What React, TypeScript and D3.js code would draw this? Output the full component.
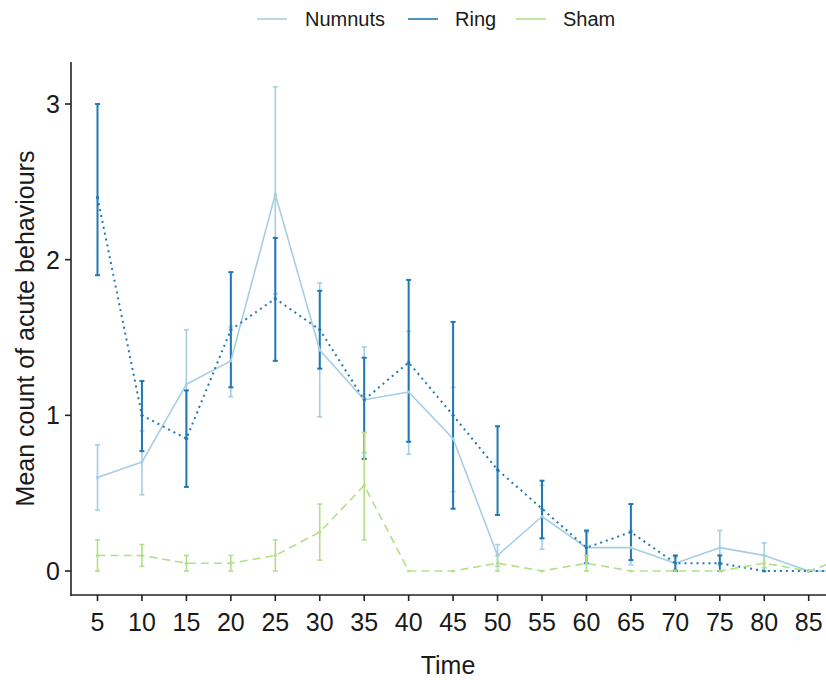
import React from "react";
import * as d3 from "d3";

// Time points (minutes)
const times = [5, 10, 15, 20, 25, 30, 35, 40, 45, 50, 55, 60, 65, 70, 75, 80, 85, 90];

// Numnuts group: mean and error-bar limits
const numnutsMean = [0.6, 0.7, 1.2, 1.35, 2.42, 1.42, 1.1, 1.15, 0.85, 0.1, 0.35, 0.15, 0.15, 0.05, 0.15, 0.1, 0, 0];
const numnutsLow = [0.39, 0.49, 0.85, 1.12, 1.78, 0.99, 0.76, 0.75, 0.51, 0.03, 0.14, 0.05, 0.04, 0.01, 0.04, 0.02, 0, 0];
const numnutsHigh = [0.81, 0.9, 1.55, 1.57, 3.11, 1.85, 1.44, 1.54, 1.18, 0.17, 0.55, 0.25, 0.26, 0.09, 0.26, 0.18, 0, 0];

// Ring group
const ringMean = [2.4, 1.0, 0.85, 1.55, 1.75, 1.55, 1.1, 1.34, 1.0, 0.65, 0.4, 0.15, 0.25, 0.05, 0.05, 0, 0, 0];
const ringLow = [1.9, 0.77, 0.54, 1.18, 1.35, 1.3, 0.72, 0.83, 0.4, 0.36, 0.21, 0.05, 0.07, 0, 0, 0, 0, 0];
const ringHigh = [3.0, 1.22, 1.16, 1.92, 2.14, 1.8, 1.37, 1.87, 1.6, 0.93, 0.58, 0.26, 0.43, 0.1, 0.1, 0, 0, 0];

// Sham group
const shamMean = [0.1, 0.1, 0.05, 0.05, 0.1, 0.25, 0.55, 0, 0, 0.05, 0, 0.05, 0, 0, 0, 0.05, 0, 0.1];
const shamLow = [0, 0.03, 0, 0, 0, 0.07, 0.2, 0, 0, 0, 0, 0, 0, 0, 0, 0, 0, 0];
const shamHigh = [0.2, 0.17, 0.1, 0.1, 0.2, 0.43, 0.89, 0, 0, 0.1, 0, 0.1, 0, 0, 0, 0.1, 0, 0.2];

const xTickLabels = ["5", "10", "15", "20", "25", "30", "35", "40", "45", "50", "55", "60", "65", "70", "75", "80", "85"];
const yTicks = [0, 1, 2, 3];

const groupNames = ["Numnuts", "Ring", "Sham"];
const groupColors = ["#a6cee3", "#1f78b4", "#b2df8a"];

const W = 826;
const H = 680;
const FONT = "'Liberation Sans', Arial, sans-serif";

export default function App() {
  const panelLeft = 71;
  const panelTop = 62;
  const panelBottom = 595;

  const x = d3.scalePoint<number>().domain(times).range([97.5, 97.5 + 17 * 44.45]);
  const y = d3.scaleLinear().domain([0, 3]).range([571, 104]);

  const groups = [
    { name: groupNames[0], color: groupColors[0], mean: numnutsMean, low: numnutsLow, high: numnutsHigh, dash: "none", width: 1.6 },
    { name: groupNames[1], color: groupColors[1], mean: ringMean, low: ringLow, high: ringHigh, dash: "2,4", width: 2 },
    { name: groupNames[2], color: groupColors[2], mean: shamMean, low: shamLow, high: shamHigh, dash: "8,5", width: 1.6 },
  ];

  const line = d3
    .line<number>()
    .x((_, i) => x(times[i]) as number)
    .y((d) => y(d));

  const cap = 2.5;

  return (
    <svg width={W} height={H} style={{ position: "absolute", left: 0, top: 0, background: "#fff" }}>
      <defs>
        <clipPath id="panel">
          <rect x={panelLeft} y={panelTop} width={W - panelLeft} height={panelBottom - panelTop} />
        </clipPath>
      </defs>

      {/* error bars */}
      <g clipPath="url(#panel)">
        {groups.map((g) => (
          <g key={g.name + "-err"} stroke={g.color} strokeWidth={g.name === "Ring" ? 2 : 1.6} fill="none">
            {times.map((t, i) => {
              if (g.high[i] === g.low[i]) return null;
              const cx = x(t) as number;
              const y1 = y(g.high[i]);
              const y2 = y(g.low[i]);
              return (
                <g key={t}>
                  <line x1={cx} x2={cx} y1={y1} y2={y2} />
                  <line x1={cx - cap} x2={cx + cap} y1={y1} y2={y1} />
                  <line x1={cx - cap} x2={cx + cap} y1={y2} y2={y2} />
                </g>
              );
            })}
          </g>
        ))}
        {/* mean lines */}
        {groups.map((g) => (
          <path
            key={g.name + "-line"}
            d={line(g.mean) || ""}
            fill="none"
            stroke={g.color}
            strokeWidth={g.width}
            strokeDasharray={g.dash}
            strokeLinejoin="round"
          />
        ))}
        {groups.map((g) => (
          <g key={g.name + "-pts"} fill={g.color}>
            {times.map((t, i) => (
              <circle key={t} cx={x(t) as number} cy={y(g.mean[i])} r={1.6} />
            ))}
          </g>
        ))}
      </g>

      {/* axes */}
      <g stroke="#222" strokeWidth={1.6} fill="none">
        <line x1={panelLeft} x2={panelLeft} y1={panelTop} y2={panelBottom + 0.8} />
        <line x1={panelLeft - 0.8} x2={W} y1={panelBottom} y2={panelBottom} />
        {yTicks.map((v) => (
          <line key={v} x1={panelLeft - 6} x2={panelLeft} y1={y(v)} y2={y(v)} />
        ))}
        {xTickLabels.map((lab) => {
          const cx = x(+lab) as number;
          return <line key={lab} x1={cx} x2={cx} y1={panelBottom} y2={panelBottom + 6} />;
        })}
      </g>

      <g fontFamily={FONT} fontSize={25} fill="#1a1a1a">
        {yTicks.map((v) => (
          <text key={v} x={panelLeft - 11} y={y(v)} dy="0.36em" textAnchor="end">
            {v}
          </text>
        ))}
        {xTickLabels.map((lab) => (
          <text key={lab} x={x(+lab) as number} y={631} textAnchor="middle">
            {lab}
          </text>
        ))}
      </g>

      <text x={448} y={674} fontFamily={FONT} fontSize={25} fill="#1a1a1a" textAnchor="middle">
        Time
      </text>
      <text
        transform={`translate(34, ${(panelTop + panelBottom) / 2}) rotate(-90)`}
        fontFamily={FONT}
        fontSize={25}
        fill="#1a1a1a"
        textAnchor="middle"
      >
        Mean count of acute behaviours
      </text>

      {/* legend */}
      <g fontFamily={FONT} fontSize={20} fill="#1a1a1a">
        {[
          { key: 257, text: 305 },
          { key: 408, text: 455 },
          { key: 516, text: 563 },
        ].map((p, i) => (
          <g key={groupNames[i]}>
            <line x1={p.key} x2={p.key + 30} y1={19} y2={19} stroke={groupColors[i]} strokeWidth={1.6} />
            <text x={p.text} y={26}>
              {groupNames[i]}
            </text>
          </g>
        ))}
      </g>
    </svg>
  );
}
